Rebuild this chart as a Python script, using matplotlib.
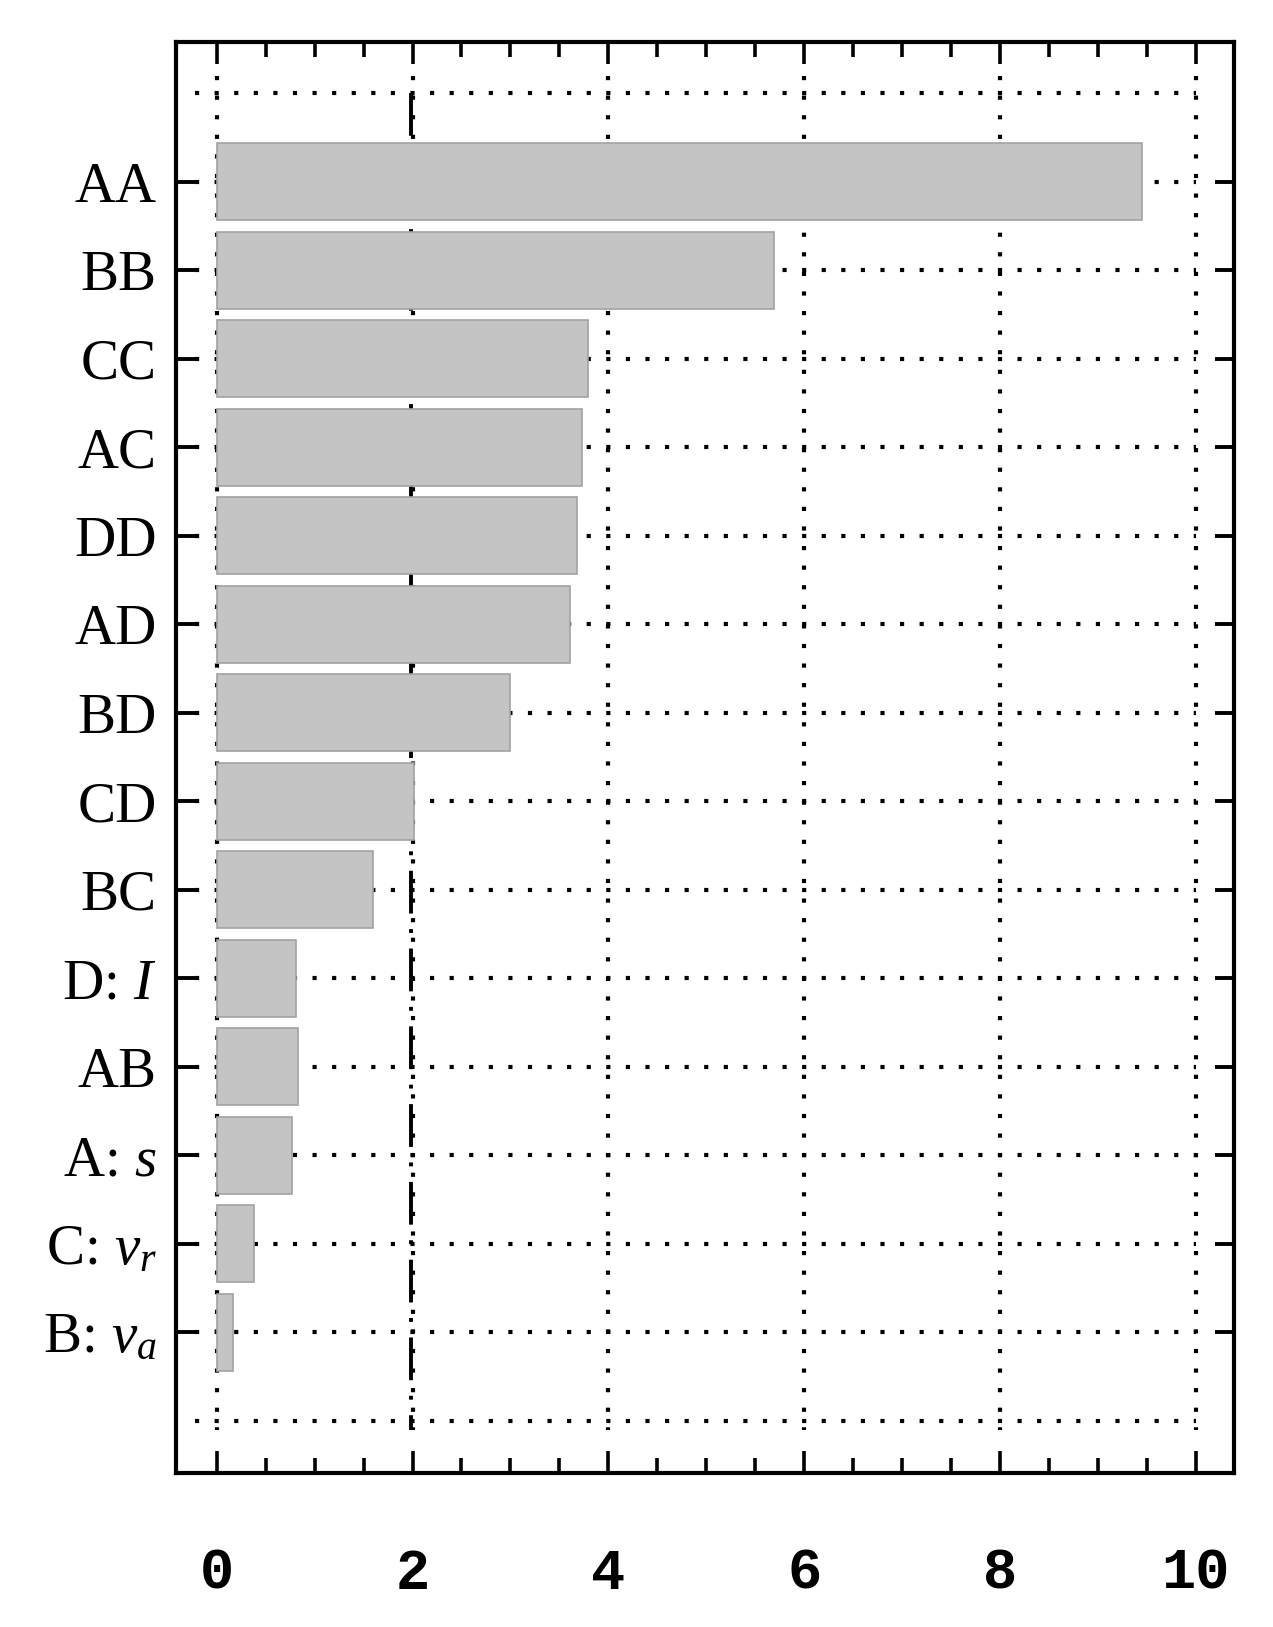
"""
pareto_efeitos.py
=================
Gráfico de Pareto dos efeitos padronizados (barras horizontais),
com a linha do valor crítico em ~2.

Saída: out.png
"""

import matplotlib

matplotlib.use("Agg")

import matplotlib.pyplot as plt
import numpy as np
from matplotlib.ticker import MultipleLocator

# efeitos em ordem decrescente (de cima para baixo)
efeitos = ["AA", "BB", "CC", "AC", "DD", "AD", "BD", "CD", "BC",
           "D: $I$", "AB", "A: $s$", "C: $v_r$", "B: $v_a$"]
efeito_padronizado = [9.45, 5.69, 3.79, 3.73, 3.68, 3.61, 3.00,
                      2.02, 1.60, 0.81, 0.83, 0.77, 0.38, 0.17]
valor_critico = 1.98
xticks = [0, 2, 4, 6, 8, 10]

plt.rcParams["mathtext.fontset"] = "custom"
plt.rcParams["mathtext.rm"] = "Liberation Serif"
plt.rcParams["mathtext.it"] = "Liberation Serif:italic"
plt.rcParams["lines.scale_dashes"] = True


def plotar_pareto(nomes, valores, critico):
    """Barras horizontais + grade pontilhada estilo Statgraphics."""
    fig = plt.figure(figsize=(12.73, 16.27), dpi=100)
    ax = fig.add_axes([0.1383, 0.0947, 0.9694 - 0.1383, 0.9744 - 0.0947])

    y = np.arange(len(nomes))
    ax.set_xlim(-0.415, 10.39)
    ax.set_ylim(14.59, -1.585)

    # grade pontilhada (linhas das categorias + uma acima e uma abaixo)
    linhas_y = np.arange(-1, len(nomes) + 1)
    ax.hlines(linhas_y, -0.22, 10.0, colors="black", linewidth=3.0,
              linestyles=(0, (1, 3.7)), zorder=1)
    ax.vlines(xticks, -1.2, 14.1, colors="black", linewidth=3.0,
              linestyles=(0, (1, 3.7)), zorder=1)

    # linha do valor crítico (traço-ponto)
    ax.vlines([critico], -1.0, 14.1, colors="black", linewidth=2.8,
              linestyles=(0, (11, 4, 1, 4)), zorder=1.5)

    ax.barh(y, valores, height=0.87, left=0, color="#c4c4c4",
            edgecolor="#a2a2a2", linewidth=1.2, zorder=2)

    ax.set_yticks(y)
    ax.set_yticklabels(nomes, fontfamily="Liberation Serif", fontsize=41)
    ax.set_xticks(xticks)
    ax.set_xticklabels([str(v) for v in xticks], fontfamily="Liberation Mono",
                       fontweight="bold", fontsize=41)
    ax.xaxis.set_minor_locator(MultipleLocator(0.5))

    ax.tick_params(axis="x", which="major", direction="in", top=True,
                   length=16, width=2.6, pad=53)
    ax.tick_params(axis="x", which="minor", direction="in", top=True,
                   length=10.5, width=2.6)
    ax.tick_params(axis="y", which="major", direction="in", right=True,
                   length=14, width=2.8, pad=14)
    ax.tick_params(axis="y", which="minor", left=False, right=False)

    for spine in ax.spines.values():
        spine.set_linewidth(3)
        spine.set_zorder(5)

    return fig


def main():
    fig = plotar_pareto(efeitos, efeito_padronizado, valor_critico)
    fig.savefig("out.png", dpi=100)


if __name__ == "__main__":
    main()
